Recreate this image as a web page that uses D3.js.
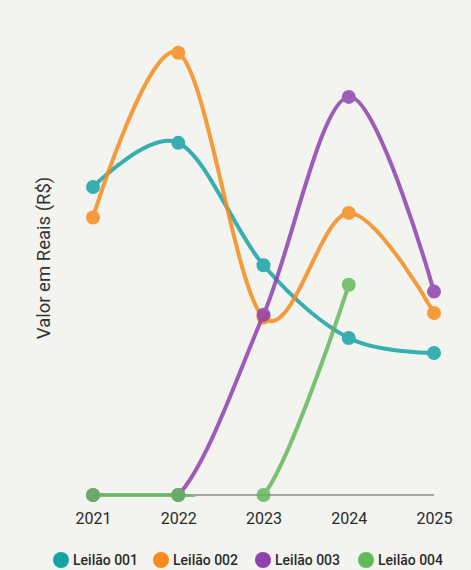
<!DOCTYPE html>
<html>
<head>
<meta charset="utf-8">
<script src="https://cdn.jsdelivr.net/npm/d3@7"></script>
<style>
  html, body { margin: 0; padding: 0; background: #f3f3ef; }
  svg { display: block; font-family: Roboto, "Noto Sans", sans-serif; }
</style>
</head>
<body>
<svg id="chart" width="471" height="570"></svg>
<script>
// Anos do eixo X
const years = ["2021", "2022", "2023", "2024", "2025"];

// Valores por leilão (mil R$); null = sem dado
const leilao001 = [67.7, 77.4, 50.5, 34.5, 31.2];
const leilao002 = [61.0, 97.2, 39.0, 62.0, 40.0];
const leilao003 = [0, 0, 39.6, 87.5, 44.7];
const leilao004 = [0, 0, 0, 46.2, null];

const seriesNames = ["Leilão 001", "Leilão 002", "Leilão 003", "Leilão 004"];
const seriesColors = ["#17a3a5", "#f78c1c", "#8f42ae", "#62b95c"];
const yLabel = "Valor em Reais (R$)";

const series = [leilao001, leilao002, leilao003, leilao004].map((vals, i) => ({
  name: seriesNames[i],
  color: seriesColors[i],
  points: vals.map((v, j) => ({ year: years[j], value: v })).filter(d => d.value !== null)
}));

const svg = d3.select("#chart");
const margin = { top: 40, right: 37, bottom: 75, left: 93 };
const width = 471, height = 570;

const x = d3.scalePoint()
  .domain(years)
  .range([margin.left, width - margin.right]);

const y = d3.scaleLinear()
  .domain([0, 100])
  .range([height - margin.bottom, margin.top]);

// Eixo X: linha base e rótulos dos anos
const xAxis = svg.append("g")
  .attr("transform", `translate(0,${y(0)})`)
  .call(d3.axisBottom(x).tickSize(0).tickPadding(18));
xAxis.select(".domain")
  .attr("d", `M${x.range()[0]},0H${x.range()[1]}`)
  .attr("stroke", "#8a8a8a")
  .attr("stroke-width", 1.5);
xAxis.selectAll("text")
  .attr("font-size", 16)
  .attr("fill", "#2a2a2a")
  .attr("font-family", "Roboto, sans-serif");

// Título do eixo Y
svg.append("text")
  .attr("transform", "translate(50,258) rotate(-90)")
  .attr("text-anchor", "middle")
  .attr("font-size", 18.5)
  .attr("fill", "#333")
  .text(yLabel);

// Recorte da área de plotagem
svg.append("clipPath").attr("id", "plot")
  .append("rect")
  .attr("x", 0).attr("y", 0)
  .attr("width", width).attr("height", y(0) + 2);

const line = d3.line()
  .x(d => x(d.year))
  .y(d => y(d.value))
  .curve(d3.curveCatmullRom.alpha(0));

const plot = svg.append("g");

series.forEach(s => {
  const g = plot.append("g").attr("opacity", 0.85);
  g.append("path")
    .datum(s.points)
    .attr("clip-path", "url(#plot)")
    .attr("fill", "none")
    .attr("stroke", s.color)
    .attr("stroke-width", 4)
    .attr("stroke-linecap", "round")
    .attr("d", line);
  g.selectAll("circle")
    .data(s.points)
    .join("circle")
    .attr("cx", d => x(d.year))
    .attr("cy", d => y(d.value))
    .attr("r", 7)
    .attr("fill", s.color);
});

// Legenda
const legendItems = [61, 161, 263, 366];
const legend = svg.append("g").attr("transform", "translate(0,560)");
series.forEach((s, i) => {
  const g = legend.append("g").attr("transform", `translate(${legendItems[i]},0)`);
  g.append("circle").attr("r", 8).attr("fill", s.color);
  g.append("text")
    .attr("x", 12)
    .attr("dy", "0.35em")
    .attr("font-size", 14)
    .attr("font-weight", 500)
    .attr("fill", "#2a2a2a")
    .text(s.name);
});
</script>
</body>
</html>
